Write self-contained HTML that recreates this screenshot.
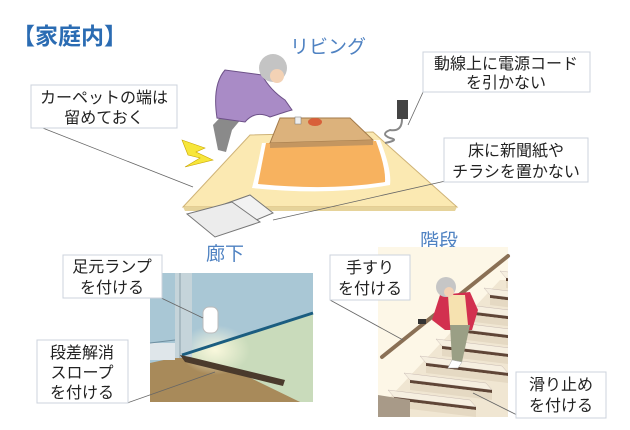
<!DOCTYPE html>
<html><head><meta charset="utf-8"><style>
html,body{margin:0;padding:0;background:#fff;width:630px;height:430px;overflow:hidden}
svg{display:block}
text{font-family:"Liberation Sans","Noto Sans CJK JP",sans-serif}
.lbl{font-size:16px;fill:#222}
.box{fill:#fff;stroke:#ccd3dc;stroke-width:1}
.ln{stroke:#666;stroke-width:0.8;fill:none}
</style></head><body>
<svg width="630" height="430" viewBox="0 0 630 430" xmlns="http://www.w3.org/2000/svg">
<defs>
<clipPath id="st"><rect x="378" y="247" width="130" height="170"/></clipPath>
<radialGradient id="glow"><stop offset="0" stop-color="#fffbe0" stop-opacity="0.9"/><stop offset="1" stop-color="#fffbe0" stop-opacity="0"/></radialGradient>
</defs>
<text x="12" y="44" font-size="23" font-weight="bold" fill="#2b6cb3">【家庭内】</text>
<text x="290" y="53" font-size="19" fill="#4f82c2">リビング</text>
<!-- carpet -->
<polygon points="183,207 250,135 373,132 457,207" fill="#fbe9b2" stroke="#cfb377"/>
<polygon points="183,207 457,207 455,211 185,211" fill="#e6d39a"/>
<!-- kotatsu -->
<path d="M262,143 L380,140 Q392,170 390,185 Q330,196 252,188 Q258,165 262,143 Z" fill="#fff"/>
<path d="M266,143 L376,141 Q386,168 385,182 Q330,191 258,184 Q262,163 266,143 Z" fill="#f7b25f"/>
<polygon points="280,118 350,118 373,140 270,143" fill="#dcb27c" stroke="#a27a4a"/>
<polygon points="270,143 373,140 373,145 270,148" fill="#c49660"/>
<ellipse cx="315" cy="122" rx="7" ry="4" fill="#d8603a"/>
<rect x="295" y="117" width="6" height="7" fill="#eee" stroke="#777" stroke-width="0.5"/>
<!-- cord -->
<rect x="397" y="100" width="11" height="19" fill="#444"/>
<path d="M402,119 Q402,132 390,130 Q380,134 390,138 Q400,140 385,143" stroke="#888" fill="none" stroke-width="2"/>
<!-- person -->
<path d="M232,105 L213,125 L218,150 L226,152 L232,130 L242,118 Z" fill="#8a8a8a"/>
<path d="M225,70 Q212,85 217,118 L245,122 Q255,110 270,117 Q285,112 292,110 L285,100 Q270,90 262,75 Z" fill="#a98bc6" stroke="#6d5188"/>
<circle cx="273" cy="68" r="14" fill="#c4c4c4"/>
<circle cx="277" cy="76" r="7" fill="#f3d2b5"/>
<polygon points="182,140 205,148 196,152 213,160 185,167 200,158 188,155" fill="#f7e63a" stroke="#c8a400" stroke-width="0.6"/>
<!-- newspapers -->
<polygon points="205,211 250,195 273,213 230,231" fill="#f2f2f2" stroke="#777"/>
<polygon points="187,214 232,202 260,222 215,237" fill="#ececec" stroke="#777"/>
<!-- boxes top -->
<line class="ln" x1="35" y1="125" x2="193" y2="187"/>
<rect class="box" x="31" y="85" width="146" height="43"/>
<text class="lbl" x="104" y="103" text-anchor="middle">カーペットの端は</text>
<text class="lbl" x="104" y="123" text-anchor="middle">留めておく</text>
<line class="ln" x1="424" y1="90" x2="408" y2="125"/>
<rect class="box" x="423" y="52" width="167" height="40"/>
<text class="lbl" x="506" y="69" text-anchor="middle">動線上に電源コード</text>
<text class="lbl" x="506" y="88" text-anchor="middle">を引かない</text>
<line class="ln" x1="450" y1="180" x2="273" y2="220"/>
<rect class="box" x="444" y="138" width="144" height="44"/>
<text class="lbl" x="516" y="156" text-anchor="middle">床に新聞紙や</text>
<text class="lbl" x="516" y="177" text-anchor="middle">チラシを置かない</text>
<!-- corridor -->
<text x="206" y="260" font-size="19" fill="#4f82c2">廊下</text>
<rect x="150" y="273" width="163" height="129" fill="#a9c7d5"/>
<polygon points="182,356 313,313 313,402 182,402" fill="#c9dbbb"/>
<polygon points="150,363 182,356 300,402 150,402" fill="#a88a5a"/>
<polygon points="182,356 230,368 300,402 240,402 150,402" fill="#a88a5a"/>
<ellipse cx="215" cy="350" rx="35" ry="25" fill="url(#glow)"/>
<rect x="150" y="343" width="25" height="17" fill="#dfe6ea"/>
<line x1="150" y1="343" x2="175" y2="340" stroke="#6f8fa0"/>
<rect x="175" y="273" width="17" height="85" fill="#c5d4da"/>
<line x1="180" y1="273" x2="180" y2="358" stroke="#8aa0aa"/>
<line x1="182" y1="355" x2="313" y2="313" stroke="#1b5d80" stroke-width="3"/>
<polygon points="180,355 190,357 285,380 283,386 185,362" fill="#4a3a2c"/>
<rect x="203" y="307" width="15" height="26" rx="6" fill="#fff" stroke="#bbb"/>
<line class="ln" x1="157" y1="296" x2="203" y2="318" stroke="#335"/>
<rect class="box" x="63" y="255" width="99" height="43"/>
<text class="lbl" x="112" y="272" text-anchor="middle">足元ランプ</text>
<text class="lbl" x="112" y="293" text-anchor="middle">を付ける</text>
<line class="ln" x1="127" y1="403" x2="215" y2="372"/>
<rect class="box" x="37" y="340" width="91" height="63"/>
<text class="lbl" x="82" y="358" text-anchor="middle">段差解消</text>
<text class="lbl" x="82" y="378" text-anchor="middle">スロープ</text>
<text class="lbl" x="82" y="398" text-anchor="middle">を付ける</text>
<!-- stairs -->
<text x="420" y="247" font-size="19" fill="#4f82c2">階段</text>
<rect x="378" y="247" width="130" height="170" fill="#fdf7e7"/>
<g clip-path="url(#st)">
<polygon points="378,417 378,410 500,280 520,280 520,417" fill="#f0e6d2"/>
<g id="s">
<polygon points="388,390 470,400 476,407 394,397" fill="#f6efe0" stroke="#a99" stroke-width="0.3"/>
<polygon points="394,397 476,407 476,410 394,400" fill="#5f4536"/>
<polygon points="394,400 476,410 476,417 394,407" fill="#e5d9c3"/>
</g>
<use href="#s" transform="translate(16,-17)"/>
<use href="#s" transform="translate(32,-34)"/>
<use href="#s" transform="translate(48,-51)"/>
<use href="#s" transform="translate(64,-68)"/>
<use href="#s" transform="translate(80,-85)"/>
<use href="#s" transform="translate(96,-102)"/>
<use href="#s" transform="translate(112,-119)"/>
<polygon points="378,395 410,400 410,417 378,417" fill="#a89a88"/>
</g>
<line x1="382" y1="357" x2="508" y2="256" stroke="#8a7055" stroke-width="4" stroke-linecap="round"/>
<path d="M440,295 L432,320 L445,330 L472,330 L478,310 L470,292 Z" fill="#d2304f"/>
<path d="M448,295 L465,295 L468,325 L450,325 Z" fill="#f6e2b0"/>
<path d="M450,325 L452,360 L462,362 L470,325 Z" fill="#9a9f85"/>
<path d="M452,360 L448,368 L458,368 L462,362 Z" fill="#fff" stroke="#aaa" stroke-width="0.5"/>
<circle cx="446" cy="287" r="10" fill="#c6c6c6"/>
<circle cx="449" cy="292" r="5" fill="#f3d2b5"/>
<rect x="418" y="319" width="8" height="5" fill="#333"/>
<line class="ln" x1="330" y1="300" x2="403" y2="340"/>
<rect class="box" x="330" y="255" width="80" height="45"/>
<text class="lbl" x="370" y="273" text-anchor="middle">手すり</text>
<text class="lbl" x="370" y="294" text-anchor="middle">を付ける</text>
<line class="ln" x1="517" y1="415" x2="473" y2="393"/>
<rect class="box" x="516" y="372" width="90" height="46"/>
<text class="lbl" x="561" y="390" text-anchor="middle">滑り止め</text>
<text class="lbl" x="561" y="411" text-anchor="middle">を付ける</text>
</svg>
</body></html>
